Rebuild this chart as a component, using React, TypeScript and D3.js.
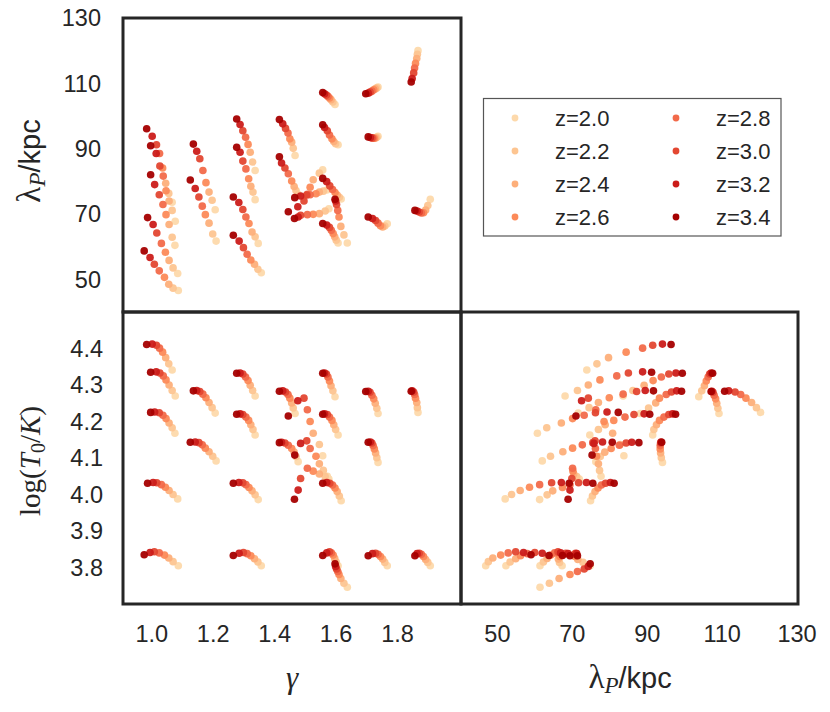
import * as d3 from "d3";

// redshift of each column in the track arrays below (dark end first)
const trackZ = [3.4, 3.2, 3.0, 2.8, 2.6, 2.4, 2.2, 2.0];

const legendZ = [2.0, 2.2, 2.4, 2.6, 2.8, 3.0, 3.2, 3.4];
const zColors = ["#fdd9ab", "#fdc591", "#fdaf7a", "#fc8a59", "#f26a4a", "#e34731", "#cb1c1a", "#a50000"];

const gammaTracks = [
  [0.977, 0.995, 1.009, 1.019, 1.029, 1.039, 1.049, 1.06],
  [0.99, 1.008, 1.02, 1.031, 1.04, 1.05, 1.06, 1.07],
  [1.129, 1.14, 1.15, 1.16, 1.17, 1.18, 1.19, 1.2],
  [0.99, 1.003, 1.018, 1.03, 1.04, 1.05, 1.06, 1.069],
  [1.119, 1.135, 1.147, 1.158, 1.168, 1.18, 1.192, 1.203],
  [0.98, 0.998, 1.01, 1.025, 1.038, 1.05, 1.063, 1.078],
  [0.969, 0.988, 1.002, 1.018, 1.035, 1.049, 1.063, 1.08],
  [1.27, 1.281, 1.29, 1.299, 1.307, 1.314, 1.322, 1.33],
  [1.27, 1.281, 1.29, 1.3, 1.309, 1.316, 1.323, 1.33],
  [1.259, 1.277, 1.29, 1.3, 1.31, 1.32, 1.33, 1.34],
  [1.259, 1.278, 1.292, 1.304, 1.316, 1.328, 1.339, 1.35],
  [1.409, 1.42, 1.429, 1.437, 1.443, 1.449, 1.454, 1.46],
  [1.409, 1.416, 1.427, 1.438, 1.449, 1.457, 1.463, 1.47],
  [1.55, 1.556, 1.562, 1.567, 1.572, 1.577, 1.583, 1.59],
  [1.55, 1.556, 1.565, 1.572, 1.58, 1.586, 1.592, 1.6],
  [1.55, 1.563, 1.573, 1.582, 1.59, 1.597, 1.604, 1.61],
  [1.55, 1.563, 1.572, 1.578, 1.584, 1.589, 1.594, 1.6],
  [1.59, 1.592, 1.595, 1.599, 1.603, 1.609, 1.619, 1.63],
  [1.69, 1.698, 1.704, 1.71, 1.716, 1.721, 1.726, 1.73],
  [1.698, 1.705, 1.71, 1.714, 1.718, 1.722, 1.726, 1.73],
  [1.698, 1.712, 1.722, 1.73, 1.738, 1.745, 1.752, 1.76],
  [1.838, 1.841, 1.846, 1.849, 1.852, 1.856, 1.858, 1.86],
  [1.85, 1.857, 1.864, 1.871, 1.878, 1.885, 1.892, 1.9],
  [1.438, 1.469, 1.489, 1.5, 1.509, 1.519, 1.539, 1.55],
  [1.458, 1.47, 1.478, 1.5, 1.519, 1.539, 1.558, 1.57],
  [1.459, 1.478, 1.498, 1.509, 1.528, 1.539, 1.552, 1.565],
];

const lambdaTracks = [
  [96.1, 93.8, 91.2, 88.5, 84.1, 79.4, 76.3, 73.6],
  [90.9, 88.5, 84.7, 81.6, 77.1, 74.0, 71.1, 67.8],
  [91.4, 89.2, 86.9, 83.3, 79.6, 76.7, 74.2, 71.3],
  [82.0, 79.0, 75.9, 72.9, 69.8, 66.8, 62.9, 60.4],
  [80.4, 77.8, 75.2, 72.4, 69.8, 67.2, 63.9, 61.7],
  [68.9, 66.8, 64.2, 61.0, 58.3, 55.8, 53.5, 51.8],
  [58.7, 56.7, 54.6, 52.6, 50.6, 48.5, 47.3, 46.6],
  [99.1, 97.4, 95.5, 93.5, 91.3, 88.9, 85.9, 83.3],
  [90.4, 88.9, 86.2, 83.8, 80.8, 78.5, 76.7, 74.4],
  [75.2, 73.5, 71.4, 69.1, 67.1, 64.5, 63.0, 61.0],
  [63.5, 61.7, 59.7, 57.7, 55.9, 54.6, 53.1, 52.0],
  [98.9, 97.6, 96.2, 94.8, 93.0, 92.0, 90.1, 87.9],
  [87.5, 85.6, 84.1, 82.3, 80.1, 78.4, 77.2, 76.0],
  [107.2, 106.8, 106.4, 106.0, 105.5, 105.0, 104.3, 103.5],
  [97.3, 96.5, 95.5, 94.2, 93.0, 92.2, 91.5, 91.2],
  [80.9, 79.9, 78.6, 77.5, 76.6, 75.8, 75.1, 74.6],
  [67.1, 66.6, 65.9, 65.0, 64.0, 63.0, 62.0, 61.1],
  [74.5, 74.0, 72.9, 71.1, 69.1, 66.2, 63.6, 61.1],
  [106.8, 107.0, 107.3, 107.6, 108.0, 108.3, 108.6, 108.9],
  [93.6, 93.4, 93.3, 93.2, 93.2, 93.3, 93.5, 93.8],
  [69.1, 68.6, 68.0, 67.2, 66.4, 66.0, 66.3, 67.0],
  [110.4, 111.5, 113.2, 114.7, 116.1, 117.6, 118.9, 120.0],
  [71.1, 70.9, 70.6, 70.3, 70.4, 71.2, 72.6, 74.5],
  [70.7, 72.2, 74.0, 76.0, 78.2, 80.5, 82.5, 83.5],
  [68.6, 69.1, 69.6, 69.8, 69.9, 70.1, 70.9, 71.6],
  [75.0, 75.5, 75.8, 75.9, 76.2, 76.7, 77.0, 77.4],
];

const logTTracks = [
  [4.411, 4.412, 4.409, 4.401, 4.39, 4.375, 4.358, 4.341],
  [4.335, 4.336, 4.333, 4.325, 4.314, 4.3, 4.285, 4.27],
  [4.284, 4.285, 4.282, 4.275, 4.265, 4.252, 4.238, 4.223],
  [4.225, 4.226, 4.224, 4.217, 4.208, 4.196, 4.183, 4.168],
  [4.143, 4.144, 4.142, 4.136, 4.127, 4.117, 4.105, 4.092],
  [4.031, 4.033, 4.032, 4.027, 4.02, 4.011, 4.0, 3.988],
  [3.835, 3.841, 3.843, 3.84, 3.834, 3.826, 3.816, 3.805],
  [4.332, 4.333, 4.33, 4.322, 4.312, 4.299, 4.285, 4.27],
  [4.22, 4.221, 4.219, 4.212, 4.203, 4.191, 4.178, 4.163],
  [4.031, 4.033, 4.032, 4.027, 4.019, 4.01, 3.999, 3.986],
  [3.833, 3.839, 3.841, 3.838, 3.832, 3.824, 3.815, 3.805],
  [4.283, 4.284, 4.281, 4.274, 4.264, 4.251, 4.237, 4.222],
  [4.142, 4.143, 4.141, 4.135, 4.126, 4.116, 4.104, 4.09],
  [4.332, 4.333, 4.33, 4.322, 4.311, 4.298, 4.284, 4.268],
  [4.22, 4.221, 4.219, 4.212, 4.203, 4.191, 4.178, 4.163],
  [4.031, 4.033, 4.031, 4.026, 4.018, 4.008, 3.996, 3.983],
  [3.833, 3.84, 3.843, 3.84, 3.834, 3.825, 3.815, 3.805],
  [3.81, 3.803, 3.796, 3.789, 3.781, 3.77, 3.757, 3.746],
  [4.282, 4.283, 4.28, 4.272, 4.262, 4.25, 4.236, 4.222],
  [4.143, 4.144, 4.141, 4.134, 4.125, 4.114, 4.101, 4.088],
  [3.832, 3.838, 3.839, 3.836, 3.83, 3.823, 3.814, 3.805],
  [4.283, 4.284, 4.281, 4.274, 4.264, 4.252, 4.238, 4.225],
  [3.832, 3.838, 3.839, 3.836, 3.83, 3.822, 3.814, 3.805],
  [4.215, 4.257, 4.264, 4.232, 4.2, 4.168, 4.137, 4.106],
  [3.987, 4.012, 4.044, 4.072, 4.064, 4.056, 4.049, 4.042],
  [4.108, 4.14, 4.147, 4.126, 4.105, 4.084, 4.066, 4.05],
];

const gammaTicks = [1.0, 1.2, 1.4, 1.6, 1.8];
const lambdaTicks = [50, 70, 90, 110, 130];
const logTTicks = [3.8, 3.9, 4.0, 4.1, 4.2, 4.3, 4.4];

const W = 830;
const H = 712;
const left = 123;
const mid = 461;
const right = 798;
const top = 18;
const split = 312;
const bottom = 604;

const ink = "#262626";
const sans = "'Liberation Sans', Arial, sans-serif";
const serif = "'Liberation Serif', 'DejaVu Serif', serif";
const tickSize = 23.5;
const legendSize = 22;
const labelSize = 29;

interface Pt {
  g: number;
  lam: number;
  t: number;
  z: number;
}

const points: Pt[] = gammaTracks
  .flatMap((gs, i) =>
    gs.map((g, j) => ({ g, lam: lambdaTracks[i][j], t: logTTracks[i][j], z: trackZ[j] }))
  )
  .sort((a, b) => a.z - b.z);

// λ_P/kpc with the mathtext-style lambda and subscript
function LambdaLabel(props: { transform: string }) {
  return (
    <text transform={props.transform} textAnchor="middle" fontSize={labelSize} fill={ink}>
      <tspan fontFamily={serif} fontSize={33}>
        λ
      </tspan>
      <tspan fontFamily={serif} fontStyle="italic" fontSize={23} dy={5}>
        P
      </tspan>
      <tspan dy={-5}>/kpc</tspan>
    </text>
  );
}

export default function App() {
  const gx = d3.scaleLinear([0.9, 2.0], [left, mid]);
  const lamY = d3.scaleLinear([40, 130], [split, top]);
  const tY = d3.scaleLinear([3.7, 4.5], [bottom, split]);
  const lamX = d3.scaleLinear([40, 130], [mid, right]);
  const color = d3.scaleOrdinal<number, string>(legendZ, zColors);

  const r = 3.8;

  const frame = (x0: number, y0: number, x1: number, y1: number) => (
    <rect x={x0} y={y0} width={x1 - x0} height={y1 - y0} fill="none" stroke={ink} strokeWidth={3} />
  );

  return (
    <svg
      width={W}
      height={H}
      style={{ position: "absolute", left: 0, top: 0, background: "#fff" }}
      fontFamily={sans}
    >
      <rect width={W} height={H} fill="#fff" />

      {/* gamma vs lambda */}
      <g>
        {points.map((p, i) => (
          <circle key={i} cx={gx(p.g)} cy={lamY(p.lam)} r={r} fill={color(p.z)} fillOpacity={0.95} />
        ))}
      </g>
      {/* gamma vs log T0 */}
      <g>
        {points.map((p, i) => (
          <circle key={i} cx={gx(p.g)} cy={tY(p.t)} r={r} fill={color(p.z)} fillOpacity={0.95} />
        ))}
      </g>
      {/* lambda vs log T0 */}
      <g>
        {points.map((p, i) => (
          <circle key={i} cx={lamX(p.lam)} cy={tY(p.t)} r={r} fill={color(p.z)} fillOpacity={0.95} />
        ))}
      </g>

      {frame(left, top, mid, split)}
      {frame(left, split, mid, bottom)}
      {frame(mid, split, right, bottom)}

      {/* tick labels */}
      <g fill={ink} fontSize={tickSize}>
        {lambdaTicks.map((v) => (
          <text key={"ly" + v} x={101} y={lamY(v)} dy="0.36em" textAnchor="end">
            {v}
          </text>
        ))}
        {logTTicks.map((v) => (
          <text key={"ty" + v} x={103} y={tY(v)} dy="0.36em" textAnchor="end">
            {v.toFixed(1)}
          </text>
        ))}
        {gammaTicks.map((v) => (
          <text key={"gx" + v} x={gx(v) - 2} y={642} textAnchor="middle">
            {v.toFixed(1)}
          </text>
        ))}
        {lambdaTicks.map((v) => (
          <text key={"lx" + v} x={lamX(v) - 1} y={642} textAnchor="middle">
            {v}
          </text>
        ))}
      </g>

      {/* axis labels */}
      <LambdaLabel transform="translate(40,161) rotate(-90)" />
      <text
        transform="translate(40,461) rotate(-90)"
        textAnchor="middle"
        fontSize={labelSize}
        fontFamily={serif}
        fill={ink}
      >
        <tspan>log(</tspan>
        <tspan fontStyle="italic">T</tspan>
        <tspan fontSize={20} dy={5}>
          0
        </tspan>
        <tspan dy={-5}>/</tspan>
        <tspan fontStyle="italic">K</tspan>
        <tspan>)</tspan>
      </text>
      <text x={292} y={688} textAnchor="middle" fontSize={31} fontFamily={serif} fontStyle="italic" fill={ink}>
        γ
      </text>
      <LambdaLabel transform="translate(630,688)" />

      {/* legend */}
      <g>
        <rect x={483.5} y={98.5} width={297.5} height={137.5} fill="#fff" stroke="#555" strokeWidth={1.2} />
        {legendZ.map((z, i) => {
          const col = Math.floor(i / 4);
          const row = i % 4;
          const mx = col === 0 ? 515 : 676;
          const cy = 118 + row * 33;
          return (
            <g key={z}>
              <circle cx={mx} cy={cy} r={3.4} fill={color(z)} />
              <text x={mx + 40} y={cy} dy="0.36em" fontSize={legendSize} fill={ink}>
                z={z.toFixed(1)}
              </text>
            </g>
          );
        })}
      </g>
    </svg>
  );
}
